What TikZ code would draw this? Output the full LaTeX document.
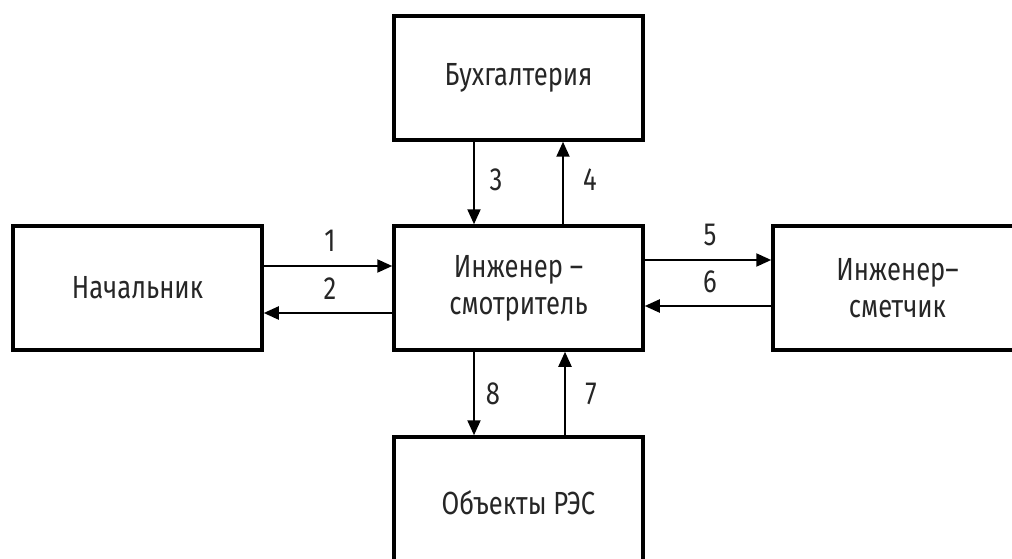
\documentclass[tikz,border=0pt]{standalone}
\usepackage{fontspec}
\setmainfont{Fira Sans}[FakeStretch=0.8]
\usetikzlibrary{arrows.meta}
\begin{document}
\begin{tikzpicture}[x=1pt,y=-1pt,
  box/.style={draw=black, line width=3.5pt, minimum width=249pt, minimum height=124pt,
    inner sep=0pt, align=center, text=black!85, font=\fontsize{32}{37}\selectfont},
  arr/.style={line width=2.2pt, -{Triangle[length=15pt,width=13pt]}},
  lbl/.style={font=\fontsize{32}{37}\selectfont, text=black!85, inner sep=0pt}]
\useasboundingbox (0,0) rectangle (1012,559);
\node[box] (buh) at (518.5,78) {Бухгалтерия};
\node[box] (ctr) at (518.5,288) {Инженер –\\смотритель};
\node[box] (nach) at (137.5,288) {Начальник};
\node[box] (smet) at (897.5,288) {Инженер–\\сметчик};
\node[box] (obj) at (518.5,499) {};
\node[lbl] (objt) at (518.5,503) {Объекты РЭС};
\draw[arr] ([xshift=-44.5pt]buh.south) -- ([xshift=-44.5pt]ctr.north);
\draw[arr] ([xshift=44.5pt]ctr.north) -- ([xshift=44.5pt]buh.south);
\draw[arr] ([yshift=22pt]nach.east) -- ([yshift=22pt]ctr.west);
\draw[arr] ([yshift=-25pt]ctr.west) -- ([yshift=-25pt]nach.east);
\draw[arr] ([yshift=28pt]ctr.east) -- ([yshift=28pt]smet.west);
\draw[arr] ([yshift=-18pt]smet.west) -- ([yshift=-18pt]ctr.east);
\draw[arr] ([xshift=-44.5pt]ctr.south) -- ([xshift=-44.5pt]obj.north);
\draw[arr] ([xshift=46.5pt]obj.north) -- ([xshift=46.5pt]ctr.south);
\node[lbl] (l1) at (330,241) {1};
\node[lbl] (l2) at (330,289) {2};
\node[lbl] (l3) at (496,180) {3};
\node[lbl] (l4) at (590,180) {4};
\node[lbl] (l5) at (710,235) {5};
\node[lbl] (l6) at (710,282) {6};
\node[lbl] (l8) at (493,394) {8};
\node[lbl] (l7) at (591,394) {7};
\end{tikzpicture}
\end{document}
